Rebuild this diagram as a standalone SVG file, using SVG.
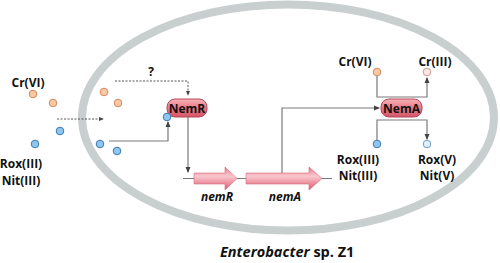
<svg xmlns="http://www.w3.org/2000/svg" width="500" height="263" viewBox="0 0 500 263">
  <defs>
    <linearGradient id="protGrad" x1="0" y1="0" x2="0" y2="1">
      <stop offset="0" stop-color="#f7b3ba"/>
      <stop offset="0.5" stop-color="#e97784"/>
      <stop offset="1" stop-color="#d4566a"/>
    </linearGradient>
    <linearGradient id="geneGrad" x1="0" y1="0" x2="0" y2="1">
      <stop offset="0" stop-color="#e9788a"/>
      <stop offset="0.4" stop-color="#f9c8ce"/>
      <stop offset="1" stop-color="#dd5a6e"/>
    </linearGradient>
    <marker id="arr" viewBox="0 0 6 6" refX="5" refY="3" markerWidth="5" markerHeight="5" orient="auto">
      <path d="M0,0.5 L6,3 L0,5.5 z" fill="#444"/>
    </marker>
  </defs>
  <style>
    .cell { fill: none; stroke: #c9cfcf; stroke-width: 8; }
    .lbl { font-family: "Open Sans", "Liberation Sans", sans-serif; font-weight: bold; font-size: 12px; fill: #111; text-anchor: middle; }
    .gene { font-family: "Open Sans", "Liberation Sans", sans-serif; font-weight: bold; font-style: italic; font-size: 12px; fill: #111; text-anchor: middle; }
    .box { fill: url(#protGrad); stroke: #b54858; stroke-width: 1; }
    .garrow { fill: url(#geneGrad); stroke: #dc6a7c; stroke-width: 0.6; }
    .orange { fill: #f8c9a3; stroke: #d5885a; stroke-width: 1; }
    .blue { fill: #90c6ee; stroke: #3b78b5; stroke-width: 1; }
    .pink { fill: #fbe7e3; stroke: #cf9a90; stroke-width: 1; }
    .paleblue { fill: #dff0fa; stroke: #6d9cc2; stroke-width: 1; }
    .solid { fill: none; stroke: #7a7a7a; stroke-width: 1.2; }
    .dotted { fill: none; stroke: #555; stroke-width: 1; stroke-dasharray: 2 1.5; }
  </style>

  <!-- cell envelope -->
  <ellipse class="cell" cx="288" cy="117.5" rx="206" ry="113"/>

  <!-- connectors -->
  <g id="connectors">
    <line class="dotted" x1="57" y1="119" x2="103" y2="119" marker-end="url(#arr)"/>
    <polyline class="dotted" points="115,81 188,81 188,95" marker-end="url(#arr)"/>
    <polyline class="solid" points="109,141 168,141 168,122" marker-end="url(#arr)"/>
    <line class="solid" x1="188" y1="117" x2="188" y2="172" marker-end="url(#arr)"/>
    <line class="solid" x1="183" y1="178.5" x2="332" y2="178.5"/>
    <polyline class="solid" points="282,173 282,108 379,108" marker-end="url(#arr)"/>
    <polyline class="solid" points="377,76 377,97 427,97 427,78" marker-end="url(#arr)"/>
    <polyline class="solid" points="377,140 377,120 427,120 427,139" marker-end="url(#arr)"/>
  </g>

  <!-- ions outside the cell -->
  <g id="outside-ions">
    <text class="lbl" x="28" y="87">Cr(VI)</text>
    <circle class="orange" cx="33" cy="94" r="3.8"/>
    <circle class="orange" cx="53" cy="103" r="3.8"/>
    <circle class="blue" cx="60" cy="131" r="3.8"/>
    <circle class="blue" cx="35" cy="144" r="3.8"/>
    <text class="lbl" x="21" y="168">Rox(III)</text>
    <text class="lbl" x="21" y="185">Nit(III)</text>
  </g>

  <!-- ions inside the cell -->
  <g id="inside-ions">
    <circle class="orange" cx="104" cy="92" r="3.8"/>
    <circle class="orange" cx="118" cy="103" r="3.8"/>
    <circle class="blue" cx="100" cy="144" r="3.8"/>
    <circle class="blue" cx="117" cy="151" r="3.8"/>
  </g>

  <text id="unknown" class="lbl" x="151" y="76">?</text>

  <!-- NemR regulator -->
  <g id="NemR">
    <rect class="box" x="167" y="99" width="40" height="18" rx="8"/>
    <text class="lbl" x="187" y="112.5" font-size="12.5">NemR</text>
    <circle class="blue" cx="167" cy="117" r="3.8"/>
  </g>

  <!-- genes -->
  <g id="gene-nemR">
    <path class="garrow" d="M194,173 L225,173 L225,167 L237,178.5 L225,190 L225,184 L194,184 z"/>
    <text class="gene" x="217" y="201">nemR</text>
  </g>
  <g id="gene-nemA">
    <path class="garrow" d="M246,173 L309,173 L309,167 L322,178.5 L309,190 L309,184 L246,184 z"/>
    <text class="gene" x="285" y="201">nemA</text>
  </g>

  <!-- NemA reductase -->
  <g id="NemA">
    <rect class="box" x="381" y="99" width="41" height="18" rx="8"/>
    <text class="lbl" x="401.5" y="112.5" font-size="12.5">NemA</text>
  </g>
  <g id="NemA-substrates">
    <text class="lbl" x="355" y="66">Cr(VI)</text>
    <circle class="orange" cx="377" cy="72" r="3.8"/>
    <text class="lbl" x="435" y="66">Cr(III)</text>
    <circle class="pink" cx="427" cy="72" r="3.8"/>
    <circle class="blue" cx="377" cy="144" r="3.8"/>
    <circle class="paleblue" cx="427" cy="144" r="3.8"/>
    <text class="lbl" x="358" y="164">Rox(III)</text>
    <text class="lbl" x="358" y="180">Nit(III)</text>
    <text class="lbl" x="437" y="164">Rox(V)</text>
    <text class="lbl" x="437" y="180">Nit(V)</text>
  </g>

  <text id="organism" x="220" y="257" font-family="'Open Sans', 'Liberation Sans', sans-serif" font-weight="bold" font-size="14.5" fill="#111"><tspan font-style="italic">Enterobacter</tspan> sp. Z1</text>
</svg>
